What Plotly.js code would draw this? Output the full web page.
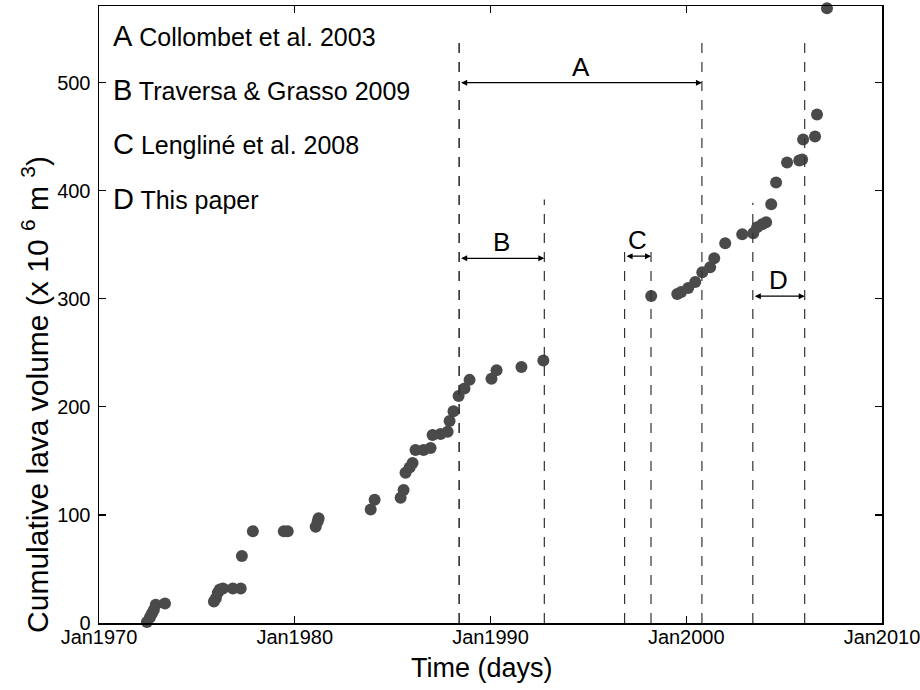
<!DOCTYPE html>
<html>
<head>
<meta charset="utf-8">
<script src="https://cdn.plot.ly/plotly-3.0.1.min.js"></script>
<style>html,body{margin:0;padding:0;background:#fff;}</style>
</head>
<body>
<div id="chart" style="width:920px;height:690px;"></div>
<script>
// Eruption dates (decimal years) and cumulative lava volume (x10^6 m^3)
const years = [1972.45, 1972.6, 1972.7, 1972.8, 1972.9, 1973.37,
  1975.87, 1975.97, 1976.07, 1976.17, 1976.33, 1976.84, 1977.24, 1977.3, 1977.86, 1979.44, 1979.64, 1981.07, 1981.17, 1981.22,
  1983.88, 1984.08, 1985.41, 1985.56, 1985.66, 1985.87, 1986.02, 1986.17, 1986.58, 1986.94, 1987.04, 1987.45, 1987.81, 1987.91, 1988.11, 1988.37, 1988.67, 1988.93, 1990.05, 1990.31, 1991.58, 1992.70,
  1998.21, 1999.54, 1999.74, 2000.10, 2000.46, 2000.82, 2001.22, 2001.43, 2001.99, 2002.86, 2003.42, 2003.62, 2003.88, 2004.08, 2004.34, 2004.59, 2005.15, 2005.77, 2005.92, 2005.97, 2006.58, 2006.68, 2007.19];
const volumes = [1, 5, 8.5, 12, 17, 18,
  20, 23, 28, 31, 32, 32, 32, 62, 85, 85, 85, 89, 94, 97,
  105, 114, 116, 123, 139, 144, 148, 160, 160, 162, 174, 175, 177, 187, 196, 210, 217, 225, 226, 234, 237, 243,
  302.6, 304.4, 306.3, 310, 315.5, 324.7, 329.3, 337.6, 351.5, 359.8, 360.7, 366.2, 369, 370.8, 387.5, 407.7, 426.2, 428, 429, 447.4, 450.2, 470.5, 569];

// Study periods
const spanLabels = ['A', 'B', 'C', 'D'];
const spanStart = [1988.4, 1988.4, 1996.85, 2003.4];
const spanEnd = [2000.8, 1992.75, 1998.2, 2006.05];
const spanArrowY = [500, 337.5, 339.5, 302.5];
const spanTopStart = [541, 541, 350, 389];
const spanTopEnd = [541, 392, 350, 541];

// Legend-like references
const refLetters = ['A', 'B', 'C', 'D'];
const refTexts = ['Collombet et al. 2003', 'Traversa &amp; Grasso 2009', 'Lengliné et al. 2008', 'This paper'];

const xTickVals = [1970, 1980, 1990, 2000, 2010];
const xTickText = ['Jan1970', 'Jan1980', 'Jan1990', 'Jan2000', 'Jan2010'];
const yTickVals = [0, 100, 200, 300, 400, 500];

const SANS = '"Liberation Sans", Arial, Helvetica, sans-serif';

const trace = {
  x: years, y: volumes, type: 'scatter', mode: 'markers',
  marker: {size: 12, color: '#4a4a4a'},
  cliponaxis: false, hoverinfo: 'x+y', showlegend: false
};

const shapes = [];
const annotations = [];
for (let i = 0; i < spanLabels.length; i++) {
  [[spanStart[i], spanTopStart[i]], [spanEnd[i], spanTopEnd[i]]].forEach(([xv, top]) => {
    shapes.push({type: 'line', xref: 'x', yref: 'y', x0: xv, x1: xv, y0: 0, y1: top,
      line: {color: '#333333', width: 1.2, dash: '10px,9px'}});
  });
  annotations.push({x: spanEnd[i], y: spanArrowY[i], ax: spanStart[i], ay: spanArrowY[i],
    xref: 'x', yref: 'y', axref: 'x', ayref: 'y', text: ' ', showarrow: true,
    arrowside: 'end+start', arrowhead: 2, arrowsize: 1, arrowwidth: 1.2, arrowcolor: '#000',
    font: {size: 2}});
  annotations.push({x: (spanStart[i] + spanEnd[i]) / 2, y: spanArrowY[i], xref: 'x', yref: 'y',
    text: spanLabels[i], showarrow: false, yanchor: 'middle', xanchor: 'center', yshift: 16,
    font: {family: SANS, size: 26, color: '#000'}});
}

const refY = [0.951, 0.864, 0.776, 0.687];
for (let i = 0; i < refLetters.length; i++) {
  annotations.push({x: 0.0153, y: refY[i], xref: 'paper', yref: 'paper', xanchor: 'left', yanchor: 'middle',
    showarrow: false, align: 'left',
    text: '<span style="font-size:29px">' + refLetters[i] + '</span> ' + refTexts[i],
    font: {family: SANS, size: 25, color: '#000'}});
}

// Axis titles
annotations.push({x: 0.489, y: -0.0724, xref: 'paper', yref: 'paper', xanchor: 'center', yanchor: 'middle',
  showarrow: false, text: 'Time (days)', font: {family: SANS, size: 27, color: '#000'}});
annotations.push({x: -0.0817, y: 0.3697, xref: 'paper', yref: 'paper', xanchor: 'center', yanchor: 'middle',
  showarrow: false, textangle: -90, text: 'Cumulative lava volume (x 10 <sup>6</sup> m <sup>3</sup>)',
  font: {family: SANS, size: 30, color: '#000'}});

const axisCommon = {
  ticks: 'inside', ticklen: 7, tickwidth: 1.2, tickcolor: '#000',
  showline: true, linecolor: '#000', linewidth: 1.5, mirror: 'ticks',
  showgrid: false, zeroline: false, ticklabeloverflow: 'allow',
  tickfont: {family: SANS, size: 20, color: '#000'}
};

const layout = {
  width: 920, height: 690,
  margin: {l: 99, r: 38, t: 6, b: 67, pad: 0},
  paper_bgcolor: '#fff', plot_bgcolor: '#fff',
  showlegend: false,
  xaxis: Object.assign({}, axisCommon, {range: [1970, 2010], tickmode: 'array', tickvals: xTickVals, ticktext: xTickText, ticklabelstandoff: -5}),
  yaxis: Object.assign({}, axisCommon, {range: [0, 571], tickmode: 'array', tickvals: yTickVals, ticklabelstandoff: 3}),
  shapes: shapes,
  annotations: annotations
};

Plotly.newPlot('chart', [trace], layout, {displayModeBar: false, staticPlot: true});
</script>
</body>
</html>
